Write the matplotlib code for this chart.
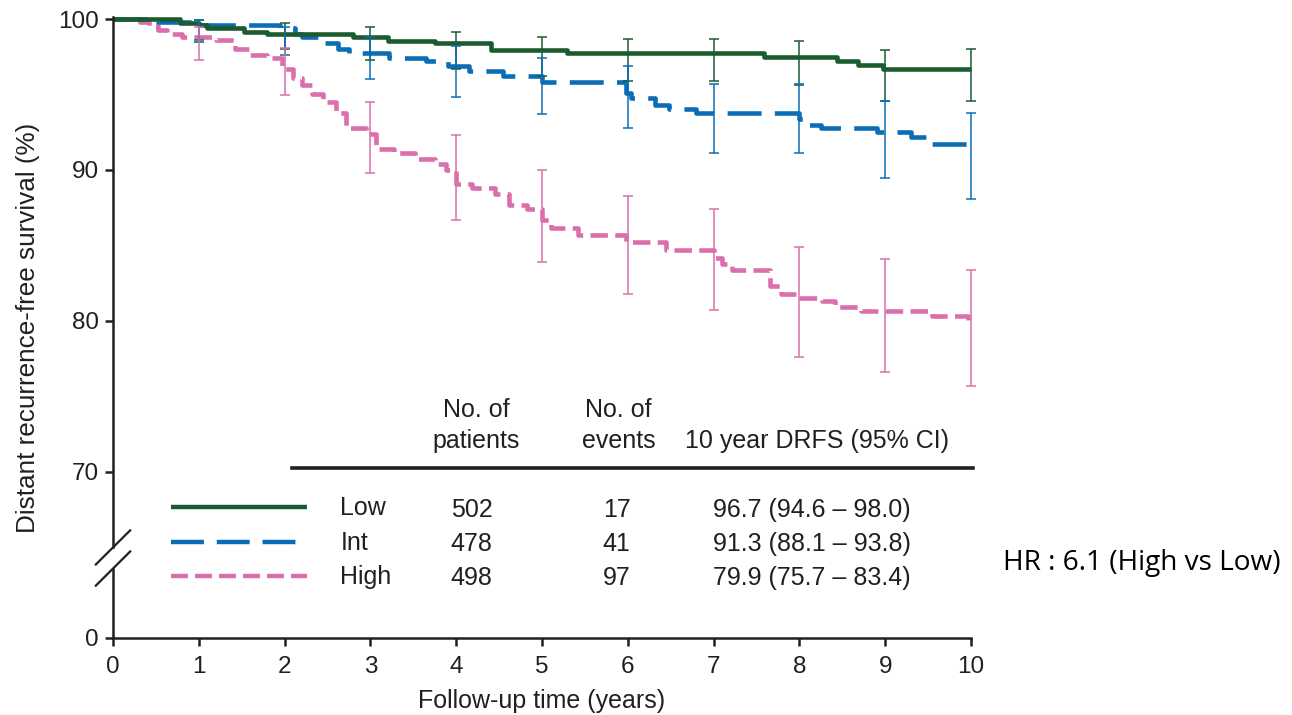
import numpy as np
import matplotlib.pyplot as plt

plt.rcParams['font.family'] = ['Liberation Sans', 'DejaVu Sans']

# Table values
groups = ['Low', 'Int', 'High']
patients = [502, 478, 498]
events = [17, 41, 97]
drfs_10y = [96.7, 91.3, 79.9]
ci_low_10y = [94.6, 88.1, 75.7]
ci_high_10y = [98.0, 93.8, 83.4]

# Kaplan-Meier step curves (years, % event free)
low_t = [0, 0.78, 1.0, 1.1, 1.53, 1.8, 2.8, 3.2, 3.75, 4.4, 5.29, 7.59, 8.44, 8.68, 8.97, 10]
low_s = [100, 99.76, 99.6, 99.43, 99.16, 99.0, 98.83, 98.55, 98.39, 97.95, 97.73, 97.5, 97.2, 96.95, 96.7, 96.7]

int_t = [0, 0.52, 1.0, 1.95, 2.12, 2.2, 2.45, 2.62, 2.75, 3.22, 3.65, 3.9, 4.15, 4.55,
         5.0, 5.98, 6.04, 6.32, 6.48, 6.8, 8.0, 8.1, 8.25, 8.9, 9.3, 9.55, 9.95, 10]
int_s = [100, 99.8, 99.6, 99.38, 99.0, 98.8, 98.4, 98.0, 97.77, 97.45, 97.2, 96.9, 96.55, 96.2,
         95.8, 95.1, 94.8, 94.3, 94.04, 93.8, 93.4, 93.0, 92.8, 92.5, 92.2, 91.7, 91.3, 91.3]

high_t = [0, 0.32, 0.42, 0.52, 0.63, 0.8, 1.2, 1.42, 1.6, 1.8, 1.97, 2.1, 2.2, 2.32, 2.45,
          2.6, 2.72, 2.95, 3.06, 3.28, 3.52, 3.75, 3.88, 4.0, 4.18, 4.45, 4.62, 4.82, 5.0,
          5.1, 5.42, 5.98, 6.45, 7.0, 7.1, 7.22, 7.66, 7.78, 7.98, 8.26, 8.42, 8.72, 9.55, 9.97, 10]
high_s = [100, 99.8, 99.55, 99.3, 99.0, 98.8, 98.6, 98.0, 97.6, 97.4, 96.7, 96.1, 95.6, 95.0, 94.5,
          93.8, 92.8, 92.4, 91.4, 91.1, 90.7, 90.4, 90.0, 89.1, 88.8, 88.4, 87.7, 87.4, 86.7,
          86.15, 85.7, 85.2, 84.7, 84.2, 83.8, 83.4, 82.3, 81.8, 81.55, 81.3, 80.95, 80.66, 80.3, 79.9, 79.9]

# yearly 95% CI bars (years 1-9, year 10 comes from the table)
ci_years = np.arange(1, 11)
low_ci_hi = [99.93, 99.76, 99.45, 99.16, 98.8, 98.7, 98.7, 98.56, 97.95]
low_ci_lo = [98.46, 98.0, 97.3, 96.7, 96.2, 95.9, 95.9, 95.6, 94.6]
int_ci_hi = [99.95, 99.5, 98.8, 98.2, 97.4, 96.9, 95.7, 95.7, 94.6]
int_ci_lo = [98.6, 97.6, 96.0, 94.85, 93.7, 92.8, 91.1, 91.1, 89.45]
high_ci_hi = [99.5, 98.1, 94.5, 92.3, 90.0, 88.3, 87.4, 84.9, 84.1]
high_ci_lo = [97.3, 94.97, 89.8, 86.7, 83.9, 81.8, 80.7, 77.6, 76.6]

colors = ['#1b5b30', '#0a6db5', '#da6fab']
dashes = [None, (7.4, 2.9), (3.8, 1.6)]
curves = [(low_t, low_s), (int_t, int_s), (high_t, high_s)]
cis = [(low_ci_lo, low_ci_hi), (int_ci_lo, int_ci_hi), (high_ci_lo, high_ci_hi)]

# broken y axis: "0" sits just below the 70-100 window
y_zero = 59.0
ink = '#231f20'

fig = plt.figure(figsize=(12.92, 7.15), dpi=100)
ax = fig.add_axes([113 / 1292, 77 / 715, 858 / 1292, 620.5 / 715])
ax.set_xlim(0, 10)
ax.set_ylim(y_zero, 100.1)

for i in range(3):
    t, s = curves[i]
    s = list(s[:-1]) + [drfs_10y[i]]
    ln, = ax.plot(t, s, drawstyle='steps-post', color=colors[i], lw=3.3,
                  solid_capstyle='butt', dash_capstyle='butt', clip_on=False, zorder=3 - i * 0.1)
    if dashes[i]:
        ln.set_dashes(dashes[i])
    lo = np.array(list(cis[i][0]) + [ci_low_10y[i]])
    hi = np.array(list(cis[i][1]) + [ci_high_10y[i]])
    ax.errorbar(ci_years, lo, yerr=[np.zeros(10), hi - lo], fmt='none', ecolor=colors[i],
                elinewidth=1.1, capsize=3.6, capthick=1.1, clip_on=False, zorder=4)

# axes styling
for side in ['top', 'right']:
    ax.spines[side].set_visible(False)
ax.spines['bottom'].set_linewidth(1.8)
ax.spines['bottom'].set_color(ink)
ax.spines['left'].set_visible(False)
brk_lo, brk_hi = 63.6, 65.0
ax.plot([0, 0], [y_zero, brk_lo], color=ink, lw=1.8, clip_on=False, zorder=5)
ax.plot([0, 0], [brk_hi, 100.1], color=ink, lw=1.8, clip_on=False, zorder=5)
for yc in [brk_lo, brk_hi]:
    ax.plot([-0.2, 0.2], [yc - 1.13, yc + 1.13], color=ink, lw=1.6, clip_on=False, zorder=5)

ax.set_xticks(range(0, 11))
ax.set_yticks([y_zero, 70, 80, 90, 100])
ax.set_yticklabels(['0', '70', '80', '90', '100'])
ax.tick_params(axis='both', direction='out', length=6, width=1.8, color=ink,
               labelsize=17.5, labelcolor=ink)
ax.tick_params(axis='y', pad=4)
ax.tick_params(axis='x', pad=7)
ax.set_xlabel('Follow-up time (years)', fontsize=18, color=ink, labelpad=8)
ax.set_ylabel('Distant recurrence-free survival (%)', fontsize=18.8, color=ink, labelpad=13)

# summary table inside the plot
fs = 18
ax.text(4.23, 74.1, 'No. of', ha='center', va='center', fontsize=fs, color=ink)
ax.text(4.23, 72.05, 'patients', ha='center', va='center', fontsize=fs, color=ink)
ax.text(5.89, 74.1, 'No. of', ha='center', va='center', fontsize=fs, color=ink)
ax.text(5.89, 72.05, 'events', ha='center', va='center', fontsize=fs, color=ink)
ax.text(8.2, 72.05, '10 year DRFS (95% CI)', ha='center', va='center', fontsize=fs, color=ink)
ax.plot([2.09, 10.02], [70.26, 70.26], color=ink, lw=2.6, clip_on=False)

row_y = [67.5, 65.2, 62.95]
for i in range(3):
    key, = ax.plot([0.68, 2.26], [row_y[i] + 0.15, row_y[i] + 0.15], color=colors[i], lw=3.2,
                   dash_capstyle='butt', solid_capstyle='butt')
    if dashes[i]:
        key.set_dashes(dashes[i])
    ax.text(2.65, row_y[i] + 0.1, groups[i], ha='left', va='center', fontsize=fs, color=ink)
    ax.text(4.18, row_y[i], str(patients[i]), ha='center', va='center', fontsize=fs, color=ink)
    ax.text(5.87, row_y[i], str(events[i]), ha='center', va='center', fontsize=fs, color=ink)
    ax.text(8.15, row_y[i], f'{drfs_10y[i]:.1f} ({ci_low_10y[i]:.1f} \u2013 {ci_high_10y[i]:.1f})',
            ha='center', va='center', fontsize=fs, color=ink)

fig.text(1003 / 1292, 1 - 563 / 715, 'HR : 6.1 (High vs Low)', ha='left', va='center',
         fontsize=20.2, family=['Open Sans', 'DejaVu Sans'], color='black')

fig.savefig('out.png', dpi=100)
